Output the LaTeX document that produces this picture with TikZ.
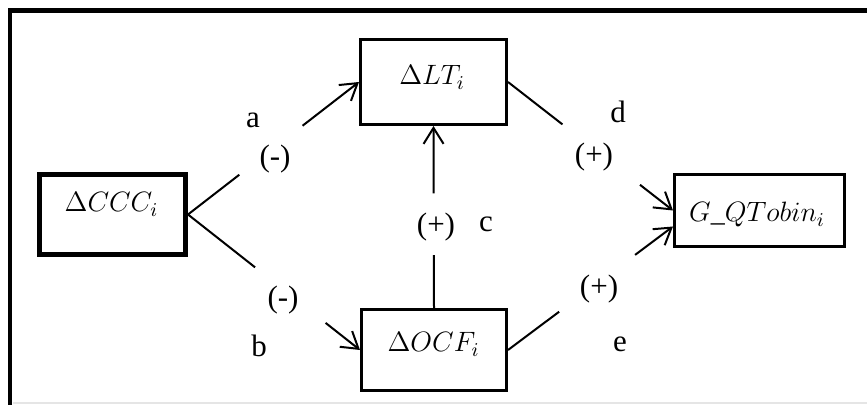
\RequirePackage{fix-cm}
\documentclass[tikz,border=0pt]{standalone}
\usepackage{fontspec}
\setmainfont{Liberation Serif}
\usetikzlibrary{arrows.meta,calc}
\tikzset{
  box/.style={draw, line width=1.3pt, inner sep=0pt, fill=white},
  thickbox/.style={draw, line width=2.3pt, inner sep=0pt, fill=white},
  boxtext/.style={inner sep=0pt, anchor=base, font=\fontsize{14}{17}\selectfont},
  lbl/.style={inner sep=0pt, anchor=base, font=\fontsize{15.5}{18}\selectfont},
  conn/.style={line width=1pt},
  arr/.style={-{Straight Barb[length=8pt,width=10pt,line width=1pt]}},
  frame/.style={line width=2.3pt, line cap=rect, line join=miter}
}
\begin{document}
\begin{tikzpicture}[x=0.5pt, y=-0.5pt]
\useasboundingbox (0,0) rectangle (867,405);
% outer frame
\draw[frame] (10,405) -- (10,10.5) -- (867,10.5);
\draw[line width=1pt, gray!20] (13,403.5) -- (867,403.5);

% boxes
\node[thickbox, minimum width=73.2pt, minimum height=40.2pt] (ccc) at (112.5,214.5) {};
\node[box, minimum width=73.2pt, minimum height=42.7pt] (lt) at (433.5,82) {};
\node[box, minimum width=72.7pt, minimum height=40.7pt] (ocf) at (434,350) {};
\node[box, minimum width=85.2pt, minimum height=36.2pt] (qt) at (759.5,210.5) {};

% box texts
\node[boxtext] (ccct) at (111.5,212) {$\Delta CCC_i$};
\node[boxtext] (ltt) at (432,85) {$\Delta LT_i$};
\node[boxtext] (ocft) at (433.5,352) {$\Delta OCF_i$};
\node[boxtext] (qtt) at (757,222) {$G\_QTobin_i$};

% connector end points
\coordinate (qin) at ([yshift=-8pt]qt.west);
\coordinate (a1) at ($(ccc.east)!0.30!(lt.west)$);
\coordinate (a2) at ($(ccc.east)!0.67!(lt.west)$);
\coordinate (b1) at ($(ccc.east)!0.39!(ocf.west)$);
\coordinate (b2) at ($(ccc.east)!0.80!(ocf.west)$);
\coordinate (c1) at ($(ocf.north)!0.29!(lt.south)$);
\coordinate (c2) at ($(ocf.north)!0.63!(lt.south)$);
\coordinate (d1) at ($(lt.east)!0.33!(qt.west)$);
\coordinate (d2) at ($(lt.east)!0.80!(qt.west)$);
\coordinate (e1) at ($(ocf.east)!0.31!(qin)$);
\coordinate (e2) at ($(ocf.east)!0.77!(qin)$);

% connectors
\draw[conn] (ccc.east) -- (a1);
\draw[conn, arr] (a2) -- (lt.west);
\draw[conn] (ccc.east) -- (b1);
\draw[conn, arr] (b2) -- (ocf.west);
\draw[conn] (ocf.north) -- (c1);
\draw[conn, arr] (c2) -- (lt.south);
\draw[conn] (lt.east) -- (d1);
\draw[conn, arr] (d2) -- (qt.west);
\draw[conn] (ocf.east) -- (e1);
\draw[conn, arr] (e2) -- (qin);

% labels
\node[lbl] (la) at (253,128) {a};
\node[lbl] (lam) at (275,167) {(-)};
\node[lbl] (lbm) at (283,308) {(-)};
\node[lbl] (lb) at (259,357) {b};
\node[lbl] (lcp) at (436,235) {(+)};
\node[lbl] (lc) at (486,232) {c};
\node[lbl] (ld) at (618,123) {d};
\node[lbl] (ldp) at (594,165) {(+)};
\node[lbl] (lep) at (599,297) {(+)};
\node[lbl] (le) at (620,352) {e};
\end{tikzpicture}
\end{document}
